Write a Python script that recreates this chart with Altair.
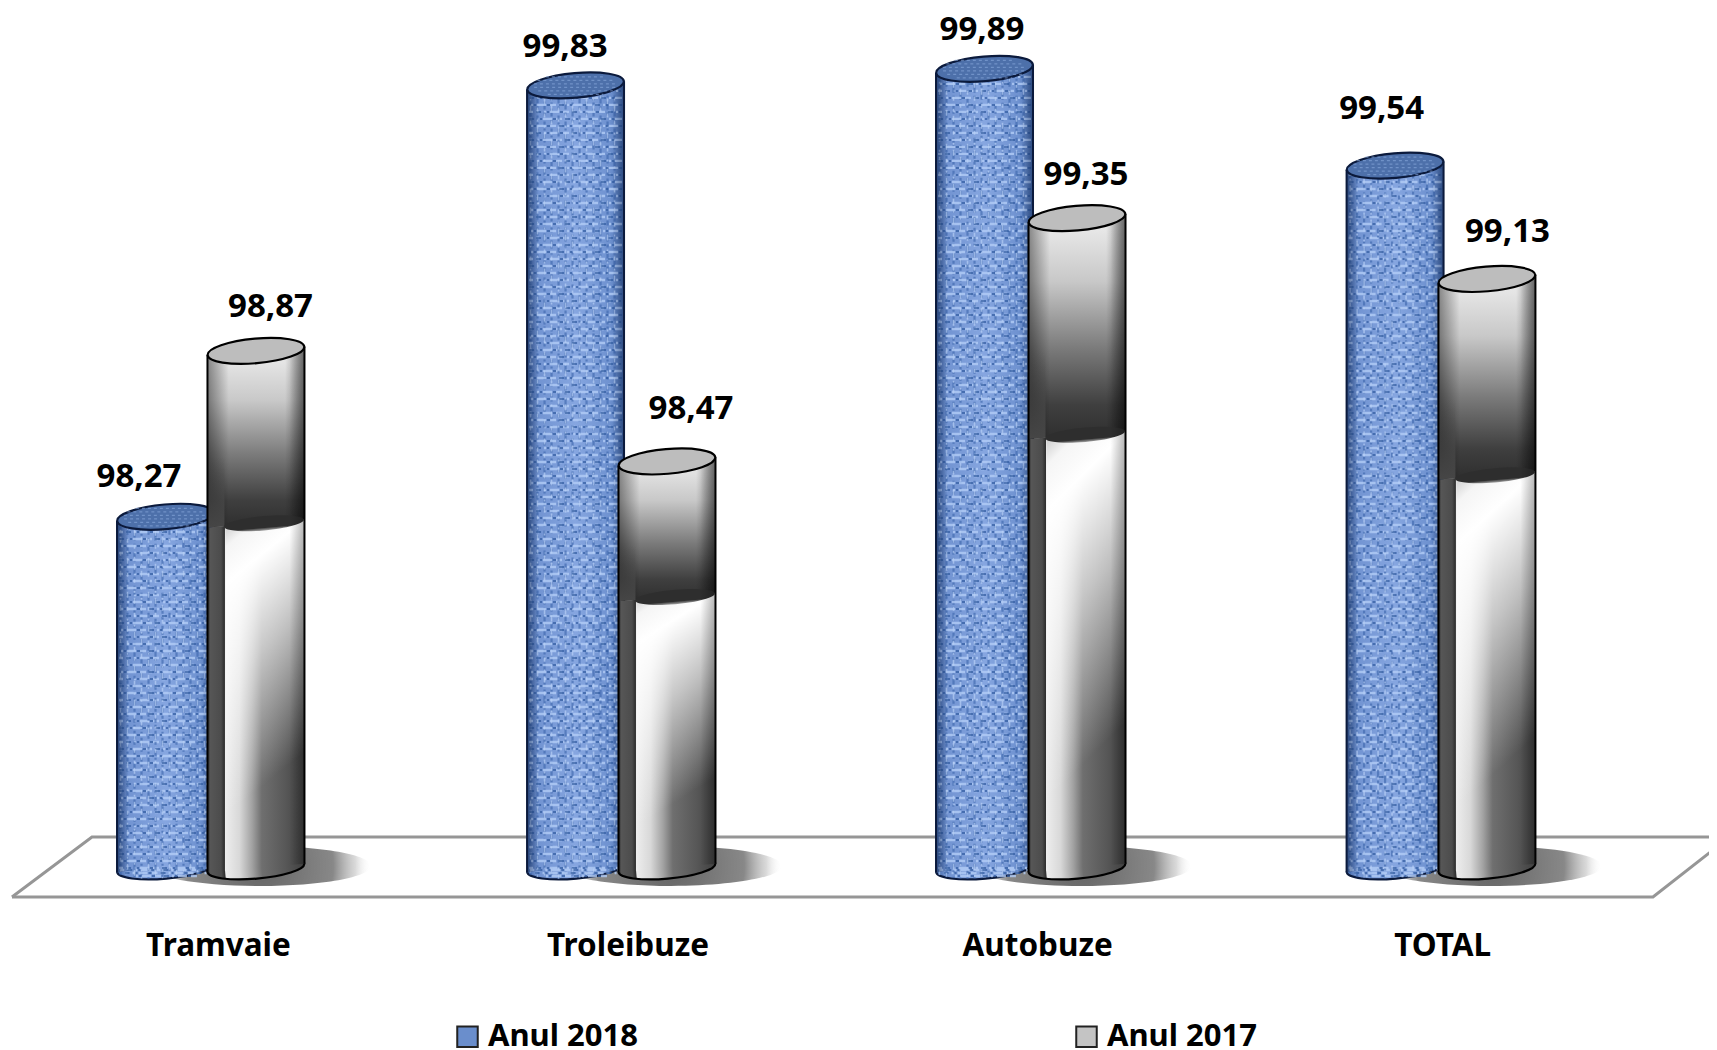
import altair as alt
import numpy as np
import pandas as pd

# ---- chart values
categories = ["Tramvaie", "Troleibuze", "Autobuze", "TOTAL"]
series_names = ["Anul 2018", "Anul 2017"]
values_2018 = [98.27, 99.83, 99.89, 99.54]
values_2017 = [98.87, 98.47, 99.35, 99.13]
value_labels_2018 = ["98,27", "99,83", "99,89", "99,54"]
value_labels_2017 = ["98,87", "98,47", "99,35", "99,13"]

# ---- layout (scale: one group = 410.4 px, one value unit = 276.5 px)
PXX = 1 / 410.4
PXY = 1 / 276.5
BASE = 97.0
X_DOMAIN = [-0.4946, 3.6501]
Y_DOMAIN = [96.895, 100.110]
CENTER_2018 = [-0.1108, 0.8883, 1.8848, 2.8852]
CENTER_2017 = [0.1096, 1.1111, 2.1102, 3.1090]
HALF = 48.5 * PXX
TILT = 4.2 * PXY
STRIP = 17 * PXX
LABEL_DX_2018 = [-26.5, -10.5, -2.5, -13.5]
LABEL_DX_2017 = [14.5, 24, 9, 20.5]
LABEL_DY_2018 = [40, 38, 39, 57]
LABEL_DY_2017 = [44, 52, 43, 47]
AXIS_TICKS = [0.017, 1.015, 2.013, 3.0]
FLOOR_A_X = [-0.4849, -0.29, 3.6696]
FLOOR_A_Y = [96.895, 97.112, 97.112]
FLOOR_B_X = [-0.4849, 3.5136, 3.6696]
FLOOR_B_Y = [96.895, 96.895, 97.076]
FONT = "Noto Sans"

x_scale = alt.Scale(domain=X_DOMAIN, nice=False, zero=False)
y_scale = alt.Scale(domain=Y_DOMAIN, nice=False, zero=False)
x_axis = alt.Axis(values=AXIS_TICKS, domain=False, ticks=False, grid=False, title=None,
                  labelExpr="['Tramvaie','Troleibuze','Autobuze','TOTAL'][round(datum.value)]",
                  labelFont=FONT, labelFontWeight="bold", labelFontSize=31.5, labelColor="black",
                  labelPadding=33, labelFlush=False, labelOverlap=False, labelAngle=0)


def X(f="x"):
    return alt.X(f"{f}:Q", scale=x_scale, axis=x_axis, title=None)


def Y(f="y"):
    return alt.Y(f"{f}:Q", scale=y_scale, axis=None)


def grad(stops, x1=0, y1=0, x2=1, y2=0):
    return {"gradient": "linear", "x1": x1, "y1": y1, "x2": x2, "y2": y2,
            "stops": [{"offset": o, "color": c} for o, c in stops]}


def segments(centers, tops, bottoms, left=None, right=None):
    """Slanted two-point pieces of cylinder wall."""
    rows = []
    for i, (c, t, b) in enumerate(zip(centers, tops, bottoms)):
        l = c - HALF if left is None else c - HALF + left
        r = c + HALF if right is None else c - HALF + right
        fl = (l - c) / HALF
        fr = (r - c) / HALF
        rows.append(dict(id=i, x=l, y=t + fl * TILT, y2=b + fl * TILT))
        rows.append(dict(id=i, x=r, y=t + fr * TILT, y2=b + fr * TILT))
    return pd.DataFrame(rows)


def area(df, fill):
    return alt.Chart(df).mark_area(fill=fill, opacity=1, orient="vertical", clip=False, strokeWidth=0).encode(
        x=X(), y=Y(), y2=alt.Y2("y2:Q"), detail="id:N")


def sides(centers, tops, color, width=2):
    rows = []
    for c, t in zip(centers, tops):
        rows.append(dict(x=c - HALF, y=t - TILT, y2=BASE - TILT))
        rows.append(dict(x=c + HALF, y=t + TILT, y2=BASE + TILT))
    return alt.Chart(pd.DataFrame(rows)).mark_rule(color=color, strokeWidth=width).encode(
        x=X(), y=Y(), y2=alt.Y2("y2:Q"))


def ellipse(ratio):
    return f"M-1,0A1,{ratio} 0 1,1 1,0A1,{ratio} 0 1,1 -1,0Z"


def caps(centers, ys, fill, stroke, ratio=0.254, width=97, sw=2.2, angle=355):
    df = pd.DataFrame({"x": centers, "y": ys})
    return alt.Chart(df).mark_point(shape=ellipse(ratio), filled=True, fill=fill, stroke=stroke,
                                    strokeWidth=sw, size=width * width, angle=angle, opacity=1,
                                    fillOpacity=1, strokeOpacity=1).encode(x=X(), y=Y())


layers = []

# legend carrier
legend_df = pd.DataFrame({"x": [0, 0], "y": [BASE, BASE], "s": series_names})
layers.append(alt.Chart(legend_df).mark_point(size=0, filled=True, opacity=1).encode(
    x=X(),
    y=Y(),
    color=alt.Color("s:N", scale=alt.Scale(domain=series_names, range=["#6a8ecc", "#c4c4c4"]),
                    legend=alt.Legend(title=None, orient="none", legendX=444, legendY=1013,
                                      direction="horizontal", columns=2, columnPadding=433,
                                      symbolType="square", symbolSize=420, symbolStrokeColor="#222222",
                                      symbolStrokeWidth=2, labelFont=FONT, labelFontWeight="bold",
                                      labelFontSize=31, labelColor="black", labelOffset=5,
                                      labelLimit=300, padding=0))))

# floor
floor_a = pd.DataFrame({"x": FLOOR_A_X, "y": FLOOR_A_Y, "o": [0, 1, 2]})
floor_b = pd.DataFrame({"x": FLOOR_B_X, "y": FLOOR_B_Y, "o": [0, 1, 2]})
for fl in (floor_a, floor_b):
    layers.append(alt.Chart(fl).mark_line(color="#969696", strokeWidth=3, clip=False).encode(
        x=X(), y=Y(), order="o:Q"))

# shadows
shadow_fill = {"gradient": "radial", "x1": 0.5, "y1": 0.5, "x2": 0.5, "y2": 0.5, "r1": 0, "r2": 0.5,
               "stops": [{"offset": 0, "color": "rgba(90,90,90,0.95)"},
                         {"offset": 0.66, "color": "rgba(115,115,115,0.85)"},
                         {"offset": 0.86, "color": "rgba(180,180,180,0.5)"},
                         {"offset": 1, "color": "rgba(255,255,255,0)"}]}
layers.append(caps([c + 4 * PXX for c in CENTER_2017], [BASE + 2 * PXY] * 4, shadow_fill,
                   "transparent", ratio=0.18, width=222, sw=0, angle=0))

# ---- 2018 cylinders
tops18 = values_2018
blue_body = grad([(0, "#4a6fb0"), (0.12, "#7294d2"), (0.5, "#86a6e0"), (0.85, "#6f92d0"), (1, "#4a6fae")])
layers.append(caps(CENTER_2018, [BASE] * 4, blue_body, "#0b1a3c", ratio=0.22))
layers.append(area(segments(CENTER_2018, tops18, [BASE] * 4), blue_body))

# woven texture of the 2018 cylinders, split into groups whose dashes are out of step
vert, horiz, top_rows = [], [], []
for c, t in zip(CENTER_2018, tops18):
    for k, px in enumerate(np.arange(-45, 46, 7)):
        d = px / 48.5
        yb = BASE - 11 * PXY * np.sqrt(1 - d * d) + d * TILT + 1 * PXY
        vert.append(dict(x=c + px * PXX, y=t - 10 * PXY, y2=yb, g=(k * 2) % 3))
    for k, py in enumerate(np.arange(0, (t - BASE) / PXY, 7)):
        horiz.append(dict(x=c - HALF + 2 * PXX, x2=c + HALF - 2 * PXX, y=BASE + py * PXY, g=(k * 2) % 3))
    for k, py in enumerate((2, 5, 8)):
        w = 46 * np.sqrt(1 - (py / 11) ** 2)
        horiz.append(dict(x=c - w * PXX, x2=c + w * PXX, y=BASE - py * PXY, g=k))
    for py in np.arange(-9, 10, 3.5):
        w = 42 * np.sqrt(1 - (py / 12) ** 2)
        top_rows.append(dict(x=c - w * PXX, x2=c + w * PXX, y=t + py * PXY))
vert_df = pd.DataFrame(vert)
horiz_df = pd.DataFrame(horiz)
top_df = pd.DataFrame(top_rows)

for g, off in enumerate((0, 7, 13)):
    tex_v = alt.Chart(vert_df[vert_df.g == g]).encode(x=X(), y=Y(), y2=alt.Y2("y2:Q"))
    tex_h = alt.Chart(horiz_df[horiz_df.g == g]).encode(x=X(), x2=alt.X2("x2:Q"), y=Y())
    layers.append(tex_v.mark_rule(color="#3a64aa", strokeWidth=2.2, strokeDash=[5, 2, 2, 4, 8, 3, 3, 6],
                                  strokeDashOffset=off, opacity=0.6))
    layers.append(tex_h.mark_rule(color="#b3cdf6", strokeWidth=2.4, strokeDash=[6, 3, 3, 5, 2, 4, 9, 4],
                                  strokeDashOffset=off + 2, opacity=0.8))
    layers.append(tex_h.mark_rule(color="#2f5a9e", strokeWidth=2, strokeDash=[3, 9, 5, 6, 2, 11],
                                  strokeDashOffset=off + 5, opacity=0.7))
    layers.append(tex_v.mark_rule(color="#bcd2f7", strokeWidth=1.6, strokeDash=[4, 8, 2, 5, 6, 9],
                                  strokeDashOffset=off + 9, opacity=0.65))
layers.append(area(segments(CENTER_2018, tops18, [BASE] * 4),
                   grad([(0, "rgba(10,30,70,0.5)"), (0.12, "rgba(10,30,70,0)"),
                         (0.88, "rgba(10,30,70,0)"), (1, "rgba(10,30,70,0.45)")])))
layers.append(sides(CENTER_2018, tops18, "#0b1a3c"))
layers.append(caps(CENTER_2018, tops18, "#4d70aa", "#0b1a3c"))
layers.append(alt.Chart(top_df).mark_rule(color="#89a8dc", strokeWidth=1.3, strokeDash=[3, 3], opacity=0.6).encode(
    x=X(), x2=alt.X2("x2:Q"), y=Y()))

# ---- 2017 cylinders
tops17 = values_2017
breaks = [t - (t - BASE) / 3 for t in tops17]
mids = [t - (t - BASE) * 0.2 for t in tops17]

lower_fill = grad([(0, "#2e2e2e"), (0.03, "#565656"), (0.14, "#4c4c4c"), (0.175, "#2f2f2f"),
                   (0.185, "#ededed"), (0.33, "#d8d8d8"), (0.46, "#a2a2a2"), (0.56, "#6f6f6f"),
                   (0.8, "#585858"), (1, "#404040")])
layers.append(caps(CENTER_2017, [BASE] * 4, lower_fill, "#000000", ratio=0.22))
layers.append(area(segments(CENTER_2017, breaks, [BASE] * 4), lower_fill))
# white bloom in the lower part
layers.append(area(segments(CENTER_2017, breaks, [BASE] * 4, left=STRIP + 1 * PXX),
                   grad([(0, "rgba(205,205,205,1)"), (0.06, "rgba(245,245,245,1)"), (0.16, "rgba(255,255,255,1)"),
                         (0.42, "rgba(255,255,255,0.62)"), (0.8, "rgba(255,255,255,0)"), (1, "rgba(255,255,255,0)")],
                        x1=0.1, y1=0, x2=0.28, y2=1)))
# upper part
upper = segments(CENTER_2017, tops17, breaks)
layers.append(area(upper, grad([(0, "#f0f0f0"), (0.3, "#c8c8c8"), (0.6, "#7a7a7a"), (0.85, "#3f3f3f"), (1, "#2e2e2e")],
                               x1=0, y1=0, x2=0, y2=1)))
layers.append(area(upper, grad([(0, "rgba(0,0,0,0.42)"), (0.22, "rgba(0,0,0,0)"),
                                (0.8, "rgba(0,0,0,0)"), (1, "rgba(0,0,0,0.42)")])))
layers.append(area(segments(CENTER_2017, mids, breaks, right=STRIP),
                   grad([(0, "rgba(80,80,80,0)"), (1, "rgba(70,70,70,1)")], x1=0, y1=0, x2=0, y2=1)))
# curved shadow edge where the upper part stops
edge_fill = grad([(0, "#2e2e2e"), (0.8, "#2e2e2e"), (1, "rgba(120,120,120,0.7)")], x1=0, y1=0, x2=0, y2=1)
layers.append(caps([c + 8 * PXX for c in CENTER_2017], breaks, edge_fill, "transparent",
                   ratio=0.18, width=80, sw=0))
# right-hand shading
layers.append(area(segments(CENTER_2017, tops17, [BASE] * 4, left=82 * PXX),
                   grad([(0, "rgba(0,0,0,0)"), (1, "rgba(0,0,0,0.28)")])))
layers.append(sides(CENTER_2017, tops17, "#000000"))
layers.append(caps(CENTER_2017, tops17, "#bdbdbd", "#000000"))

# ---- value labels
lab = pd.DataFrame({
    "x": [c + d * PXX for c, d in zip(CENTER_2018 + CENTER_2017, LABEL_DX_2018 + LABEL_DX_2017)],
    "y": [v + d * PXY for v, d in zip(values_2018 + values_2017, LABEL_DY_2018 + LABEL_DY_2017)],
    "t": value_labels_2018 + value_labels_2017,
})
layers.append(alt.Chart(lab).mark_text(font=FONT, fontWeight="bold", fontSize=33, color="black",
                                       align="center", baseline="middle", clip=False).encode(
    x=X(), y=Y(), text="t:N"))

chart = alt.layer(*layers).properties(
    width=1701, height=889,
    padding={"left": 0, "right": 0, "top": 0, "bottom": 153},
    autosize=alt.AutoSizeParams(type="none"),
    background="white",
).configure_view(stroke=None)

chart.save("out.html", embed_options={"renderer": "svg", "actions": False})
